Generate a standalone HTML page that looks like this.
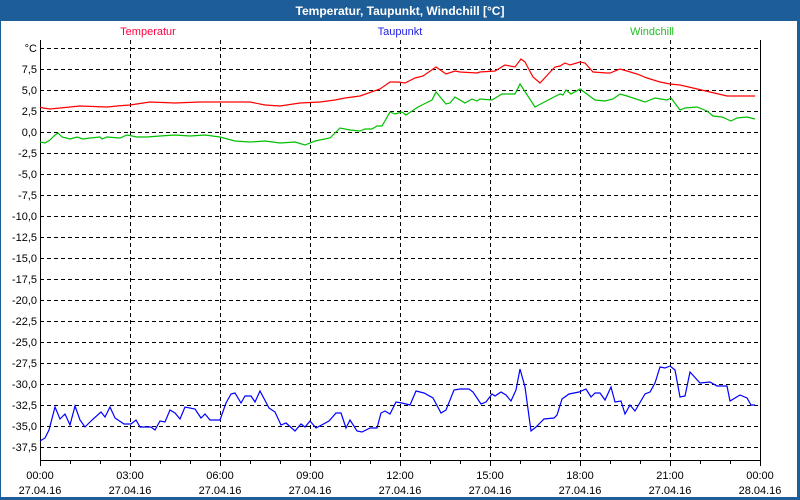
<!DOCTYPE html>
<html><head><style>
body{margin:0;background:#1e5e98;}
svg{display:block;font-family:"Liberation Sans",sans-serif;}
</style></head><body>
<svg width="800" height="500" xmlns="http://www.w3.org/2000/svg">
<rect x="0" y="0" width="800" height="500" fill="#1e5e98"/>
<rect x="1" y="21" width="796" height="476" fill="#fff"/>
<text x="400" y="15" fill="#fff" font-weight="bold" font-size="12" text-anchor="middle">Temperatur, Taupunkt, Windchill [°C]</text>
<text x="148" y="35" fill="#ff0040" font-size="11" text-anchor="middle">Temperatur</text>
<text x="400" y="35" fill="#2020e0" font-size="11" text-anchor="middle">Taupunkt</text>
<text x="652" y="35" fill="#20c020" font-size="11" text-anchor="middle">Windchill</text>
<g stroke="#000" stroke-width="1" stroke-dasharray="4,3" fill="none">
<path d="M40 48.5H760M40 69.5H760M40 90.5H760M40 111.5H760M40 132.5H760M40 153.5H760M40 174.5H760M40 195.5H760M40 216.5H760M40 237.5H760M40 258.5H760M40 279.5H760M40 300.5H760M40 321.5H760M40 342.5H760M40 363.5H760M40 384.5H760M40 405.5H760M40 426.5H760M40 447.5H760"/>
<path d="M130.5 40V460M220.5 40V460M310.5 40V460M400.5 40V460M490.5 40V460M580.5 40V460M670.5 40V460"/>
</g>
<path d="M40.5 40V460.5H760.5V40" stroke="#000" fill="none"/>
<g stroke="#000">
<path d="M70.5 460v4M100.5 460v4M130.5 460v6M160.5 460v4M190.5 460v4M220.5 460v6M250.5 460v4M280.5 460v4M310.5 460v6M340.5 460v4M370.5 460v4M400.5 460v6M430.5 460v4M460.5 460v4M490.5 460v6M520.5 460v4M550.5 460v4M580.5 460v6M610.5 460v4M640.5 460v4M670.5 460v6M700.5 460v4M730.5 460v4M760.5 460v6M40.5 460v6"/>
</g>
<g font-size="11" fill="#000" text-anchor="end">
<text x="37" y="52">°C</text><text x="37" y="73">7,5</text><text x="37" y="94">5,0</text><text x="37" y="115">2,5</text><text x="37" y="136">0,0</text><text x="37" y="157">-2,5</text><text x="37" y="178">-5,0</text><text x="37" y="199">-7,5</text><text x="37" y="220">-10,0</text><text x="37" y="241">-12,5</text><text x="37" y="262">-15,0</text><text x="37" y="283">-17,5</text><text x="37" y="304">-20,0</text><text x="37" y="325">-22,5</text><text x="37" y="346">-25,0</text><text x="37" y="367">-27,5</text><text x="37" y="388">-30,0</text><text x="37" y="409">-32,5</text><text x="37" y="430">-35,0</text><text x="37" y="451">-37,5</text>
</g>
<g font-size="11" fill="#000" text-anchor="middle">
<text x="40" y="479">00:00</text><text x="40" y="494">27.04.16</text>
<text x="130" y="479">03:00</text><text x="130" y="494">27.04.16</text>
<text x="220" y="479">06:00</text><text x="220" y="494">27.04.16</text>
<text x="310" y="479">09:00</text><text x="310" y="494">27.04.16</text>
<text x="400" y="479">12:00</text><text x="400" y="494">27.04.16</text>
<text x="490" y="479">15:00</text><text x="490" y="494">27.04.16</text>
<text x="580" y="479">18:00</text><text x="580" y="494">27.04.16</text>
<text x="670" y="479">21:00</text><text x="670" y="494">27.04.16</text>
<text x="760" y="479">00:00</text><text x="760" y="494">28.04.16</text>
</g>
<polyline fill="none" stroke="#ff0000" stroke-width="1.2" points="40,107 43,108 50,109 60,108 70,107 80,106 107,107 117,106 130,105 150,102 175,103 200,102 230,102 250,102 265,105 280,106 300,103 320,102 335,100 345,98 360,96 380,89 390,82 398,82 405,83 415,78 423,76 436,67 446,74 455,71 460,72 477,73 480,72 495,71 505,65 515,67 521,59 525,62 533,77 540,83 552,70 555,67 560,66 565,63 570,65 580,62 585,63 593,72 607,73 610,73 620,69 627,71 637,74 647,78 660,82 670,84 680,85 693,88 710,92 727,96 748,96 755,96"/>
<polyline fill="none" stroke="#00c000" stroke-width="1.2" points="40,142 45,143 50,140 55,135 58,133 62,137 70,139 77,137 83,139 90,138 100,137 102,139 107,137 120,138 127,135 137,137 147,137 160,136 175,135 190,136 205,135 220,137 235,141 250,142 265,141 280,143 295,142 305,145 315,141 330,138 340,128 350,130 360,131 365,129 372,129 377,126 382,126 390,112 395,114 402,112 406,115 418,107 428,102 432,100 436,92 446,104 450,103 455,97 465,103 472,99 477,101 480,99 492,100 502,94 515,94 520,84 535,107 552,98 560,94 563,95 566,90 571,94 580,89 595,100 605,101 613,99 620,94 627,96 645,102 655,98 667,100 671,98 680,110 685,108 697,107 707,111 713,116 722,117 731,121 737,118 747,117 755,119"/>
<polyline fill="none" stroke="#0000ff" stroke-width="1.2" points="40,441 45,438 49,430 55,407 60,419 65,414 70,425 75,406 80,420 85,427 92,420 101,412 105,417 110,407 115,418 124,424 131,424 136,420 140,427 151,427 155,430 160,421 165,422 170,410 175,413 180,419 185,407 195,409 201,418 205,414 210,420 220,420 226,403 231,394 235,393 241,403 245,396 251,396 255,402 260,391 269,408 275,412 281,425 286,423 295,431 301,424 305,427 310,421 316,428 329,421 336,413 341,413 346,428 350,420 357,431 362,432 370,428 377,428 381,413 385,411 390,414 396,402 402,403 410,405 416,391 424,393 433,398 441,413 446,410 454,390 460,389 469,389 473,392 481,404 486,402 492,394 495,396 501,392 506,395 511,401 516,390 520,369 525,387 531,431 536,427 544,419 554,418 557,415 562,399 569,394 579,392 586,389 591,397 595,393 600,393 605,400 611,387 615,402 621,401 625,414 630,405 635,411 645,394 650,392 655,383 660,367 665,368 670,366 675,370 680,397 685,396 690,372 700,383 710,382 717,386 727,386 730,401 740,395 747,398 751,405 755,405"/>
</svg>
</body></html>
